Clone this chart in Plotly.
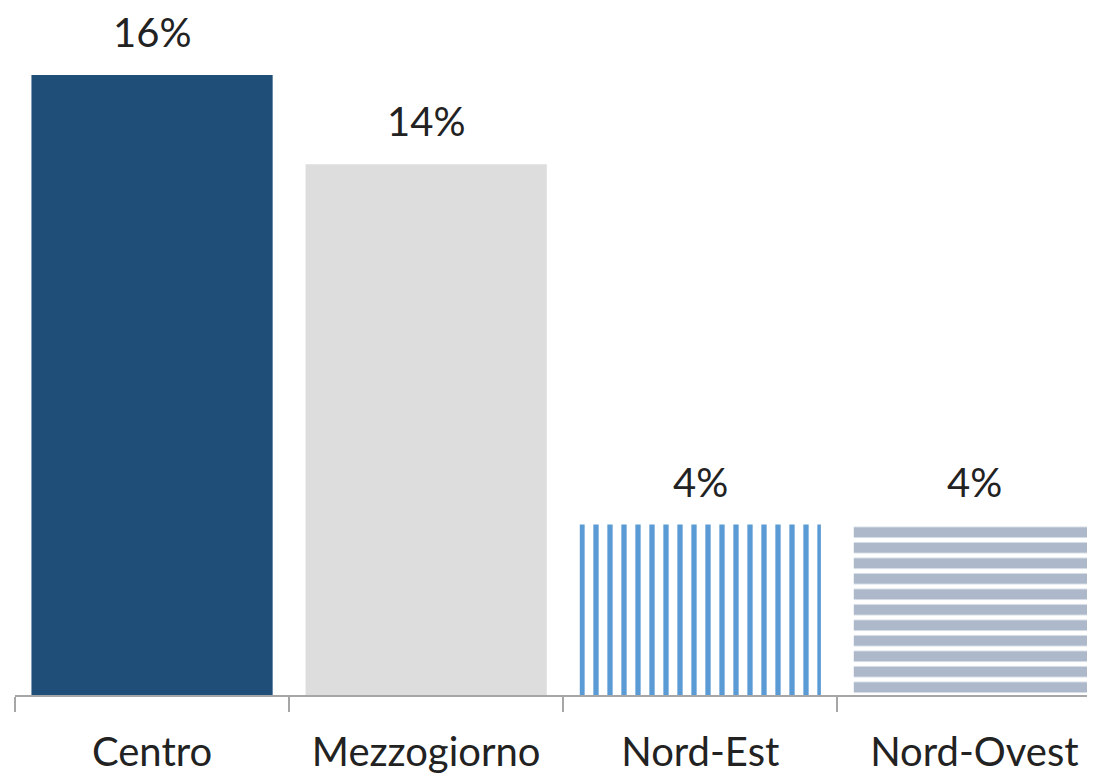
import plotly.graph_objects as go

categories = ["Centro", "Mezzogiorno", "Nord-Est", "Nord-Ovest"]
values = [16.0, 13.7, 4.4, 4.4]
value_labels = ["16%", "14%", "4%", "4%"]

bar_colors = ["#1F4E79", "#DDDDDD", "#5B9BD5", "#ADB9CA"]
pattern_shapes = ["", "", "|", "-"]
pattern_sizes = [8, 8, 14, 15.5]
pattern_solidity = [0.3, 0.3, 0.38, 0.68]

FONT = "Lato"

fig = go.Figure()
fig.add_trace(go.Bar(
    x=categories,
    y=values,
    marker=dict(
        color=bar_colors,
        line=dict(width=0),
        pattern=dict(
            shape=pattern_shapes,
            size=pattern_sizes,
            solidity=pattern_solidity,
            bgcolor="white",
            fillmode="replace",
        ),
    ),
    showlegend=False,
    hoverinfo="skip",
))

for cat, val, lab in zip(categories, values, value_labels):
    fig.add_annotation(
        x=cat, y=val, text=lab, showarrow=False,
        xref="x", yref="y", yanchor="middle", yshift=43, borderpad=0,
        font=dict(family=FONT, size=40, color="#222222"),
    )

fig.update_layout(
    width=1087, height=771,
    margin=dict(l=7, r=0, t=67, b=84),
    paper_bgcolor="white", plot_bgcolor="white",
    bargap=0.12,
    font=dict(family=FONT, size=40, color="#222222"),
)
fig.update_xaxes(
    range=[-0.5, 3.44],
    showline=True, linecolor="#A6A6A6", linewidth=2,
    ticks="outside", tickson="boundaries", ticklen=15, tickwidth=2, tickcolor="#A6A6A6",
    ticklabelstandoff=21,
    showgrid=False, zeroline=False,
    tickfont=dict(family=FONT, size=40, color="#222222"),
)
fig.update_yaxes(
    range=[0, 16.0], visible=False, showgrid=False, zeroline=False,
)

fig.write_html("out.html")
